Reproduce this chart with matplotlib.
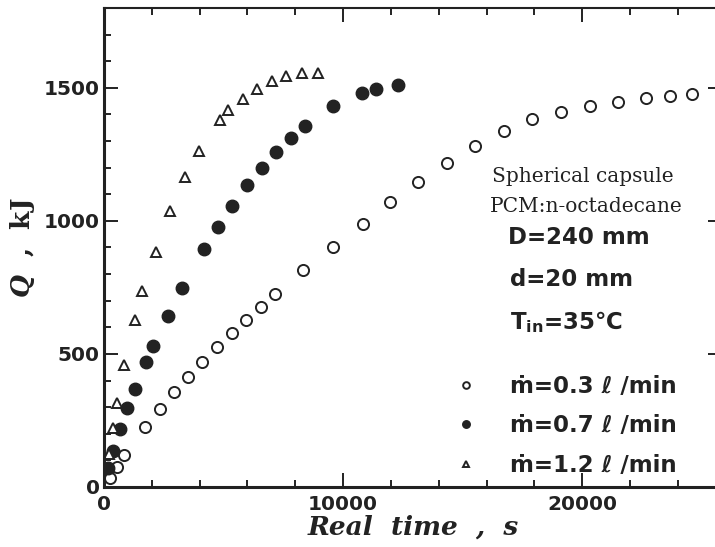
import matplotlib
matplotlib.use("Agg")
import matplotlib.pyplot as plt
from matplotlib.ticker import MultipleLocator

# ---- data ----
t_03 = [251, 530, 849, 1715, 2343, 2914, 3528, 4115, 4728, 5342, 5941, 6555, 7168,
        8340, 9564, 10820, 11966, 13152, 14338, 15523, 16736, 17921, 19121, 20334,
        21492, 22677, 23682, 24615]
q_03 = [33, 76, 120, 227, 292, 356, 415, 471, 525, 578, 628, 678, 725,
        815, 903, 987, 1070, 1148, 1219, 1283, 1336, 1382, 1411, 1432,
        1448, 1463, 1471, 1478]

t_07 = [181, 389, 669, 975, 1297, 1757, 2063, 2691, 3276, 4184, 4784, 5369, 5969,
        6611, 7196, 7824, 8410, 9594, 10779, 11366, 12287]
q_07 = [70, 136, 217, 296, 367, 471, 530, 644, 747, 893, 978, 1057, 1134,
        1198, 1258, 1313, 1357, 1430, 1480, 1495, 1510]

t_12 = [209, 389, 530, 837, 1297, 1603, 2176, 2776, 3390, 3975, 4853, 5202, 5803,
        6415, 7016, 7615, 8271, 8968]
q_12 = [124, 220, 317, 459, 628, 737, 883, 1037, 1166, 1264, 1380, 1417, 1457,
        1496, 1527, 1544, 1557, 1557]

labels = ["ṁ=0.3 ℓ /min", "ṁ=0.7 ℓ /min", "ṁ=1.2 ℓ /min"]
x_ticks = [0, 10000, 20000]
y_ticks = [0, 500, 1000, 1500]

plt.rcParams["mathtext.fontset"] = "custom"
plt.rcParams["mathtext.it"] = "DejaVu Serif:italic:bold"
plt.rcParams["mathtext.rm"] = "DejaVu Serif:bold"

# ---- figure ----
W, H = 715, 547
fig = plt.figure(figsize=(W / 100, H / 100), dpi=100)
ax = fig.add_axes([104 / W, 1 - 487 / H, (722 - 104) / W, (487 - 8) / H])

ink = "#222222"
ax.plot(t_03, q_03, "o", ms=8, mfc="white", mec=ink, mew=1.4, ls="none", label=labels[0])
ax.plot(t_07, q_07, "o", ms=9, mfc=ink, mec=ink, mew=1.0, ls="none", label=labels[1])
ax.plot(t_12, q_12, "^", ms=6.8, mfc="white", mec=ink, mew=1.4, ls="none", label=labels[2])

ax.set_xlim(0, 25850)
ax.set_ylim(0, 1800)
ax.set_xticks(x_ticks)
ax.set_yticks(y_ticks)
ax.xaxis.set_minor_locator(MultipleLocator(2000))
ax.yaxis.set_minor_locator(MultipleLocator(100))
ax.tick_params(which="both", direction="in", top=True, right=True, color=ink, width=1.4)
ax.tick_params(which="major", length=10)
ax.tick_params(which="minor", length=5)
ax.tick_params(axis="x", which="major", pad=6)
ax.tick_params(axis="y", which="major", pad=3)
ax.tick_params(axis="y", which="minor", right=False)
for lab in ax.get_xticklabels() + ax.get_yticklabels():
    lab.set_fontfamily("DejaVu Sans")
    lab.set_fontweight("bold")
    lab.set_fontsize(14.5)
    lab.set_color(ink)

for side in ["left", "bottom"]:
    ax.spines[side].set_linewidth(2.2)
for side in ["top", "right"]:
    ax.spines[side].set_linewidth(1.5)
for s in ax.spines.values():
    s.set_color(ink)

ax.set_xlabel("Real  time  ,  s", fontfamily="DejaVu Serif", fontstyle="italic",
              fontweight="bold", fontsize=19, color=ink, labelpad=0)
ax.set_ylabel(r"$Q$  ,  kJ", fontfamily="DejaVu Serif", fontweight="bold",
              fontsize=19, color=ink, labelpad=5)

# annotations
serif = dict(fontfamily="DejaVu Serif", fontsize=14.5, color=ink, va="center", ha="left")
fig.text(492 / W, 1 - 177 / H, "Spherical capsule", **serif)
fig.text(490 / W, 1 - 207 / H, "PCM:n-octadecane", **serif)
bold = dict(fontfamily="DejaVu Sans", fontweight="bold", fontsize=16.5, color=ink,
            va="center", ha="left")
fig.text(508 / W, 1 - 237 / H, "D=240 mm", **bold)
fig.text(510 / W, 1 - 280 / H, "d=20 mm", **bold)
fig.text(510 / W, 1 - 322 / H, r"T$_{\mathregular{in}}$=35℃", **bold)

leg = ax.legend(loc="upper left", bbox_to_anchor=(455 / W, 1 - 375 / H),
                bbox_transform=fig.transFigure, frameon=False, markerscale=0.6,
                handlelength=1.0, handletextpad=1.4, labelspacing=0.72,
                borderpad=0, borderaxespad=0,
                prop=dict(family="DejaVu Sans", weight="bold", size=16.5))
for t in leg.get_texts():
    t.set_color(ink)

fig.savefig("out.png", dpi=100)
